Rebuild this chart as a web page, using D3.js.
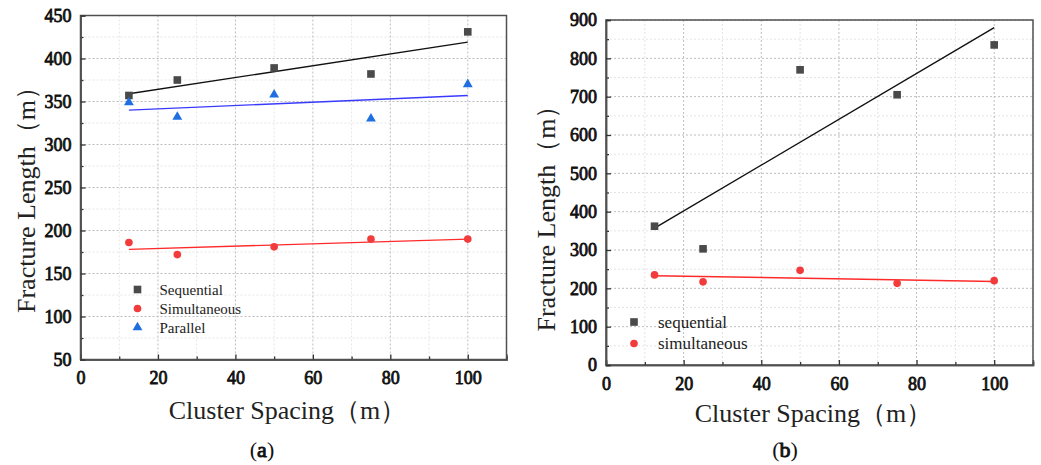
<!DOCTYPE html>
<html lang='en'>
<head>
<meta charset='utf-8'>
<title>Fracture length vs cluster spacing</title>
<script src='https://cdn.jsdelivr.net/npm/d3@7'></script>
<style>
	body { margin: 0; background: #fff; }
	svg { display: block; }
</style>
</head>
<body>
<script>
// cluster spacing (m), shared by both panels
const spacing = [12.5, 25, 50, 75, 100];

// panel (a)
const aSequential = [357, 375, 389, 382, 431];
const aSimultaneous = [186, 172, 181, 190, 190];
const aParallel = [349, 332, 358, 330, 370];
const aFitSequential = [359, 419];     // line ends at 12.5 and 100
const aFitSimultaneous = [178, 190];
const aFitParallel = [340, 357];
const aYTicks = [50, 100, 150, 200, 250, 300, 350, 400, 450];

// panel (b)
const bSequential = [362, 303, 770, 705, 835];
const bSimultaneous = [235, 217, 247, 213, 220];
const bFitSequential = [357, 880];
const bFitSimultaneous = [233, 218];
const bYTicks = [0, 100, 200, 300, 400, 500, 600, 700, 800, 900];

const xTicks = [0, 20, 40, 60, 80, 100];

const colSeq = '#4a4a4a', colSim = '#f23c3c', colPar = '#1f6fe0';
const lineSeq = '#111', lineSim = '#ff2a2a', linePar = '#3a3aff';
const serif = '"Liberation Serif", serif';

var svg = d3.select('body').append('svg').attr('width', 1041).attr('height', 465);

function panel(p) {
	var g = svg.append('g').attr('transform', 'translate(' + p.left + ',' + p.top + ')');
	var w = p.width, h = p.height;
	var x = d3.scaleLinear().domain([0, 110]).range([0, w]);
	var y = d3.scaleLinear().domain(p.yDomain).range([h, 0]);
	var xMinor = d3.range(10, 111, 20), yMinor = p.yMinor;

	// grid: minor lighter, major darker
	g.selectAll(null).data(xMinor).enter().append('line')
		.attr('x1', d => x(d)).attr('x2', d => x(d)).attr('y1', 0).attr('y2', h)
		.attr('stroke', '#e4e4e4').attr('stroke-dasharray', '2,2');
	g.selectAll(null).data(yMinor).enter().append('line')
		.attr('y1', d => y(d)).attr('y2', d => y(d)).attr('x1', 0).attr('x2', w)
		.attr('stroke', '#e4e4e4').attr('stroke-dasharray', '2,2');
	g.selectAll(null).data(xTicks.slice(1)).enter().append('line')
		.attr('x1', d => x(d)).attr('x2', d => x(d)).attr('y1', 0).attr('y2', h)
		.attr('stroke', '#bdbdbd').attr('stroke-dasharray', '2,2');
	g.selectAll(null).data(p.yTicks.slice(1)).enter().append('line')
		.attr('y1', d => y(d)).attr('y2', d => y(d)).attr('x1', 0).attr('x2', w)
		.attr('stroke', '#bdbdbd').attr('stroke-dasharray', '2,2');

	// frame
	g.append('rect').attr('width', w).attr('height', h)
		.attr('fill', 'none').attr('stroke', '#505050').attr('stroke-width', 1.5);

	// minor ticks (inward, no labels)
	g.append('g').attr('transform', 'translate(0,' + h + ')')
		.call(d3.axisBottom(x).tickValues(xMinor).tickSize(-3).tickFormat(''));
	g.append('g')
		.call(d3.axisLeft(y).tickValues(yMinor).tickSize(-3).tickFormat(''));

	// major axes with inward ticks
	var xa = g.append('g').attr('transform', 'translate(0,' + h + ')')
		.call(d3.axisBottom(x).tickValues(xTicks).tickSize(-5).tickPadding(11));
	var ya = g.append('g')
		.call(d3.axisLeft(y).tickValues(p.yTicks).tickSize(-5).tickPadding(9));
	g.selectAll('.domain').attr('stroke', '#505050').attr('stroke-width', 1.5);
	g.selectAll('.tick line').attr('stroke', '#333').attr('stroke-width', 1.3);
	// serif tick labels, thickened with a stroke to look bold
	[xa, ya].forEach(function(a) {
		a.attr('font-family', null);
		a.selectAll('text')
			.attr('font-family', serif).attr('font-size', '18px')
			.attr('fill', '#111').attr('stroke', '#111').attr('stroke-width', 0.8);
	});
	xa.selectAll('text').attr('dy', '0.75em');

	// fit lines
	p.fits.forEach(function(f) {
		g.append('line')
			.attr('x1', x(spacing[0])).attr('y1', y(f.v[0]))
			.attr('x2', x(spacing[spacing.length - 1])).attr('y2', y(f.v[1]))
			.attr('stroke', f.color).attr('stroke-width', 1.4);
	});

	// markers
	var sym = {square: d3.symbolSquare, circle: d3.symbolCircle, triangle: d3.symbolTriangle};
	var size = {square: 58, circle: 46, triangle: 42};
	p.series.forEach(function(s) {
		g.selectAll(null).data(s.v).enter().append('path')
			.attr('d', d3.symbol(sym[s.shape], size[s.shape]))
			.attr('transform', (d, i) => 'translate(' + x(spacing[i]) + ',' + y(d) + ')')
			.attr('fill', s.color);
	});

	// legend
	p.series.forEach(function(s, i) {
		var ly = p.legend.y + i * p.legend.dy;
		g.append('path').attr('d', d3.symbol(sym[s.shape], size[s.shape]))
			.attr('transform', 'translate(' + p.legend.x + ',' + ly + ')').attr('fill', s.color);
		g.append('text').attr('x', p.legend.x + p.legend.gap).attr('y', ly).attr('dy', '0.35em')
			.attr('font-family', serif).attr('font-size', p.legend.size + 'px')
			.attr('fill', '#222').text(s.name);
	});

	// axis titles
	g.append('text').attr('x', w / 2 - 6).attr('y', h + p.xTitleY)
		.attr('text-anchor', 'middle').attr('font-family', serif)
		.attr('font-size', '26px').attr('fill', '#222').text('Cluster Spacing（m）');
	g.append('text')
		.attr('transform', 'translate(' + p.yTitleX + ',' + p.yTitleC + ')rotate(-90)')
		.attr('text-anchor', 'middle').attr('font-family', serif)
		.attr('font-size', '26px').attr('fill', '#222').text('Fracture Length（m）');

	// panel label
	var lab = svg.append('text').attr('x', p.labX).attr('y', 457).attr('text-anchor', 'middle')
		.attr('font-family', serif).attr('font-size', '22px').attr('fill', '#111');
	lab.append('tspan').text('(');
	lab.append('tspan').attr('stroke', '#111').attr('stroke-width', 0.9).text(p.label);
	lab.append('tspan').text(')');
}

panel({
	left: 80.5, top: 15.5, width: 426, height: 344,
	yDomain: [50, 450], yTicks: aYTicks, yMinor: d3.range(75, 450, 50),
	fits: [
		{v: aFitSequential, color: lineSeq},
		{v: aFitParallel, color: linePar},
		{v: aFitSimultaneous, color: lineSim}
	],
	series: [
		{name: 'Sequential', v: aSequential, shape: 'square', color: colSeq},
		{name: 'Simultaneous', v: aSimultaneous, shape: 'circle', color: colSim},
		{name: 'Parallel', v: aParallel, shape: 'triangle', color: colPar}
	],
	legend: {x: 57, y: 274, dy: 19, gap: 22, size: 15},
	xTitleY: 59, yTitleX: -46, yTitleC: 178,
	labX: 262, label: 'a'
});

panel({
	left: 606, top: 20, width: 427, height: 345,
	yDomain: [0, 900], yTicks: bYTicks, yMinor: d3.range(50, 900, 100),
	fits: [
		{v: bFitSequential, color: lineSeq},
		{v: bFitSimultaneous, color: lineSim}
	],
	series: [
		{name: 'sequential', v: bSequential, shape: 'square', color: colSeq},
		{name: 'simultaneous', v: bSimultaneous, shape: 'circle', color: colSim}
	],
	legend: {x: 28, y: 302, dy: 21.5, gap: 24, size: 17},
	xTitleY: 57, yTitleX: -51, yTitleC: 192,
	labX: 785, label: 'b'
});
</script>
</body>
</html>
